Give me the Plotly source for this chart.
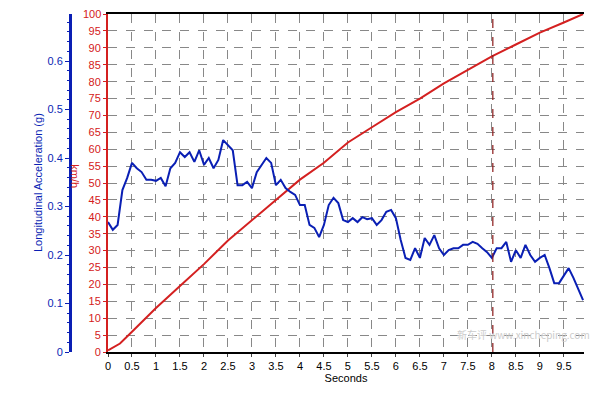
import plotly.graph_objects as go

t_acc = [round(i*0.1,1) for i in range(100)]
acc = [0.268,0.252,0.262,0.334,0.359,0.39,0.379,0.371,0.355,0.355,0.353,0.359,0.342,0.379,0.39,0.412,0.402,0.412,0.392,0.416,
       0.386,0.4,0.379,0.396,0.437,0.427,0.416,0.344,0.344,0.351,0.338,0.371,0.386,0.4,0.39,0.344,0.355,0.338,0.33,0.324,
       0.303,0.303,0.262,0.256,0.237,0.262,0.303,0.318,0.307,0.272,0.268,0.276,0.268,0.278,0.274,0.276,0.262,0.272,0.289,0.293,
       0.276,0.231,0.194,0.19,0.214,0.194,0.235,0.221,0.241,0.214,0.2,0.21,0.214,0.214,0.221,0.221,0.227,0.223,0.214,0.206,
       0.194,0.214,0.214,0.227,0.186,0.21,0.194,0.221,0.2,0.186,0.194,0.2,0.173,0.142,0.142,0.159,0.173,0.153,0.128,0.107]
t_spd = [0,0.25,0.5,1,1.5,2,2.5,3,3.5,4,4.5,5,5.5,6,6.5,7,7.5,8,8.5,9,9.5,9.9]
spd = [0.5,2.5,6,13,19.5,26,33,39,45,51,56,62,66.5,71,75,79.5,83.5,87.5,91,94.5,97.5,100]
marker_t = 8.02
x_ticks = [i*0.5 for i in range(20)]
x_labels = ['0','0.5','1','1.5','2','2.5','3','3.5','4','4.5','5','5.5','6','6.5','7','7.5','8','8.5','9','9.5']
spd_ticks = list(range(0, 101, 5))
spd_top = 100

fig = go.Figure()
fig.add_trace(go.Scatter(x=t_spd, y=spd, mode='lines', line=dict(color='#d42020', width=2), yaxis='y'))
fig.add_trace(go.Scatter(x=t_acc, y=acc, mode='lines', line=dict(color='#0a1fb4', width=2), yaxis='y2'))
fig.add_shape(type='line', x0=marker_t, x1=marker_t, y0=0, y1=1, yref='paper', xref='x',
              line=dict(color='#8b1a1a', width=1.2, dash='dash'))

grid = dict(showgrid=True, gridcolor='#888', griddash='dash', gridwidth=1)
fig.update_layout(
    width=600, height=400, showlegend=False, plot_bgcolor='white', paper_bgcolor='white',
    margin=dict(l=0, r=0, t=6, b=56, autoexpand=False),
    font=dict(family='Liberation Sans, Arial', size=11),
    xaxis=dict(domain=[100/600, 576/600], range=[0, 9.92], tickvals=x_ticks, ticktext=x_labels,
               ticks='outside', ticklen=3, linecolor='black', linewidth=2, mirror=True,
               tickfont=dict(color='black'), zeroline=False, **grid,
               title=dict(text='Seconds', font=dict(size=11, color='black'), standoff=2)),
    yaxis=dict(range=[0, 100.02], tickvals=spd_ticks, tickfont=dict(color='#d42020'), ticks='outside', ticklen=3,
               tickcolor='#d42020', linecolor='#d42020', linewidth=2, zeroline=False, **grid),
    yaxis2=dict(range=[0, 0.697], tickfont=dict(color='#0a1fb4'), overlaying='y', anchor='free',
                position=62/600, side='left', ticks='outside', ticklen=4, tickcolor='#0a1fb4',
                minor=dict(dtick=0.02, ticks='outside', ticklen=2, tickcolor='#0a1fb4'),
                linecolor='#0a1fb4', linewidth=3, showgrid=False, zeroline=False,
                tickvals=[0,0.1,0.2,0.3,0.4,0.5,0.6], ticktext=['0','0.1','0.2','0.3','0.4','0.5','0.6']),
    annotations=[
        dict(text=str(spd_top), x=0, y=spd_top, xref='x', yref='y', xanchor='right', xshift=-5,
             showarrow=False, font=dict(color='#d42020', size=11)),
        dict(text='Longitudinal Acceleration (g)', x=30/600, y=0.5, xref='paper', yref='paper', textangle=-90,
             xanchor='center', showarrow=False, font=dict(color='#0a1fb4', size=11)),
        dict(text='km/h', x=67/600, y=0.52, xref='paper', yref='paper', textangle=90, xanchor='center',
             showarrow=False, font=dict(color='#d42020', size=11)),
        dict(text='新车评 www.xincheping.com', x=584/600, y=0.025, xref='paper', yref='paper', xanchor='right',
             yanchor='bottom', showarrow=False, font=dict(color='#cccccc', size=10, family='Noto Sans CJK SC')),
    ],
)
fig.write_html('out.html')
